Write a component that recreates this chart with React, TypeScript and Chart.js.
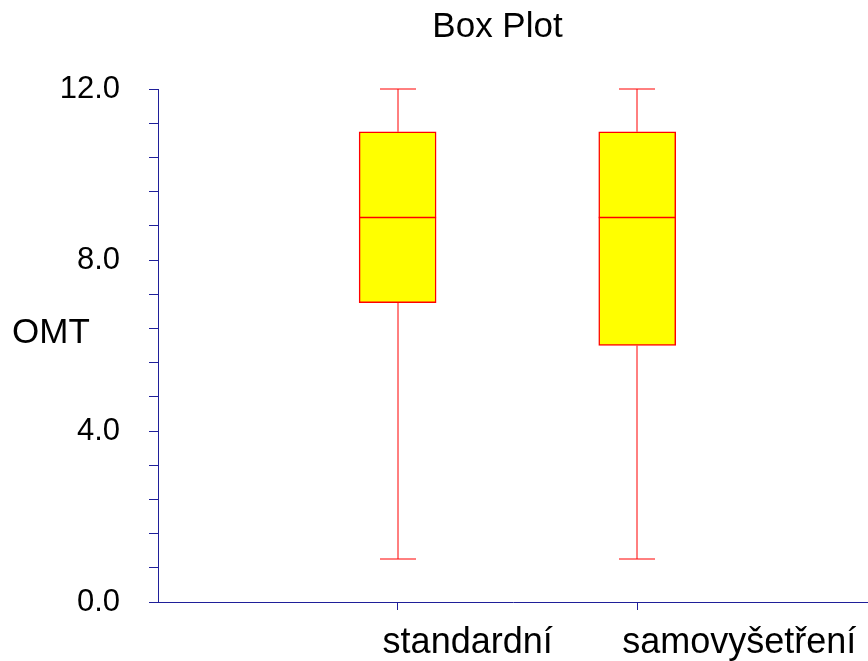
import { useEffect, useRef } from 'react';
import { Chart, registerables } from 'chart.js';

Chart.register(...registerables);

// Summary statistics for each group
const groups = ['standardní', 'samovyšetření'];
const minimums = [1, 1];
const lowerQuartiles = [7, 6];
const medians = [9, 9];
const upperQuartiles = [11, 11];
const maximums = [12, 12];

// Y axis: labelled majors, unlabelled minors every 0.8
const yMajorTicks = [0, 4, 8, 12];
const yMinorStep = 0.8;
const yMax = 12;

const chartTitle = 'Box Plot';
const yTitle = 'OMT';

const FONT = "'Liberation Sans', Arial, Helvetica, sans-serif";
const AXIS_COLOR = '#1f1f99';
const BOX_FILL = '#ffff00';
const BOX_LINE = '#ff0000';
const CAP_HALF_WIDTH = 18;

const boxPlotPlugin = {
  id: 'boxWhiskers',
  afterDatasetsDraw(chart: any) {
    const { ctx } = chart;
    const xs = chart.scales.x;
    const ys = chart.scales.y;
    const box = chart.getDatasetMeta(0).data;
    ctx.save();
    ctx.strokeStyle = BOX_LINE;
    groups.forEach((_, i) => {
      const cx = Math.round(xs.getPixelForValue(i + 1));
      const yMin = Math.round(ys.getPixelForValue(minimums[i]));
      const yQ1 = ys.getPixelForValue(lowerQuartiles[i]);
      const yQ3 = ys.getPixelForValue(upperQuartiles[i]);
      const yMaxPx = Math.round(ys.getPixelForValue(maximums[i]));
      ctx.lineWidth = 1;
      ctx.beginPath();
      // whiskers
      ctx.moveTo(cx, yQ1);
      ctx.lineTo(cx, yMin);
      ctx.moveTo(cx, yQ3);
      ctx.lineTo(cx, yMaxPx);
      // caps
      ctx.moveTo(cx - CAP_HALF_WIDTH, yMin);
      ctx.lineTo(cx + CAP_HALF_WIDTH, yMin);
      ctx.moveTo(cx - CAP_HALF_WIDTH, yMaxPx);
      ctx.lineTo(cx + CAP_HALF_WIDTH, yMaxPx);
      ctx.stroke();

      // median across the box
      const bar = box[i];
      if (bar) {
        const yMed = Math.round(ys.getPixelForValue(medians[i])) + 0.5;
        const half = bar.width / 2;
        ctx.lineWidth = 1.5;
        ctx.beginPath();
        ctx.moveTo(bar.x - half, yMed);
        ctx.lineTo(bar.x + half, yMed);
        ctx.stroke();
      }
    });
    ctx.restore();
  },
};

const textPlugin = {
  id: 'chartTexts',
  afterDraw(chart: any) {
    const { ctx } = chart;
    const xs = chart.scales.x;
    ctx.save();
    ctx.fillStyle = '#000000';
    ctx.textBaseline = 'alphabetic';

    ctx.font = `35px ${FONT}`;
    ctx.textAlign = 'center';
    ctx.fillText(chartTitle, 497.5, 37);

    ctx.textAlign = 'left';
    ctx.fillText(yTitle, 12, 343);

    ctx.font = `36px ${FONT}`;
    groups.forEach((g, i) => {
      const px = xs.getPixelForValue(i + 1);
      ctx.fillText(g, px - 15, 653);
    });
    ctx.restore();
  },
};

export default function App() {
  const canvasRef = useRef<HTMLCanvasElement | null>(null);

  useEffect(() => {
    const canvas = canvasRef.current;
    if (!canvas) return;
    const chart = new Chart(canvas, {
      type: 'bar',
      data: {
        datasets: [
          {
            data: groups.map((_, i) => ({ x: i + 1, y: [lowerQuartiles[i], upperQuartiles[i]] })) as any,
            backgroundColor: BOX_FILL,
            borderColor: BOX_LINE,
            borderWidth: 1.5,
            borderSkipped: false,
            barThickness: 77,
          },
        ],
      },
      options: {
        responsive: false,
        animation: false,
        layout: { padding: { top: 89, left: 0, right: 0, bottom: 0 } },
        plugins: {
          legend: { display: false },
          tooltip: { enabled: false },
          title: { display: false },
        },
        scales: {
          x: {
            type: 'linear',
            min: 0,
            max: 2.963,
            offset: false,
            afterBuildTicks: (scale: any) => {
              scale.ticks = groups.map((_, i) => ({ value: i + 1 }));
            },
            afterFit: (scale: any) => {
              scale.height = 59;
            },
            ticks: { callback: () => '', autoSkip: false },
            grid: {
              offset: false,
              drawOnChartArea: false,
              drawTicks: true,
              tickLength: 8,
              tickColor: AXIS_COLOR,
            },
            border: { display: true, color: AXIS_COLOR, width: 1 },
          },
          y: {
            type: 'linear',
            min: 0,
            max: yMax,
            afterBuildTicks: (scale: any) => {
              const n = Math.round(yMax / yMinorStep);
              const t = [];
              for (let k = 0; k <= n; k++) t.push({ value: +(k * yMinorStep).toFixed(4) });
              scale.ticks = t;
            },
            afterFit: (scale: any) => {
              scale.width = 158;
            },
            ticks: {
              autoSkip: false,
              padding: 29,
              color: '#000000',
              font: { family: FONT, size: 31 },
              callback: (v: any) =>
                yMajorTicks.some((m) => Math.abs(m - Number(v)) < 1e-6) ? Number(v).toFixed(1) : '',
            },
            grid: {
              drawOnChartArea: false,
              drawTicks: true,
              tickLength: 9,
              tickColor: AXIS_COLOR,
            },
            border: { display: true, color: AXIS_COLOR, width: 1 },
          },
        },
      },
      plugins: [boxPlotPlugin, textPlugin],
    });
    return () => chart.destroy();
  }, []);

  return (
    <div style={{ position: 'fixed', left: 0, top: 0, width: 868, height: 661, background: '#ffffff' }}>
      <canvas ref={canvasRef} width={868} height={661} style={{ display: 'block' }} />
    </div>
  );
}
